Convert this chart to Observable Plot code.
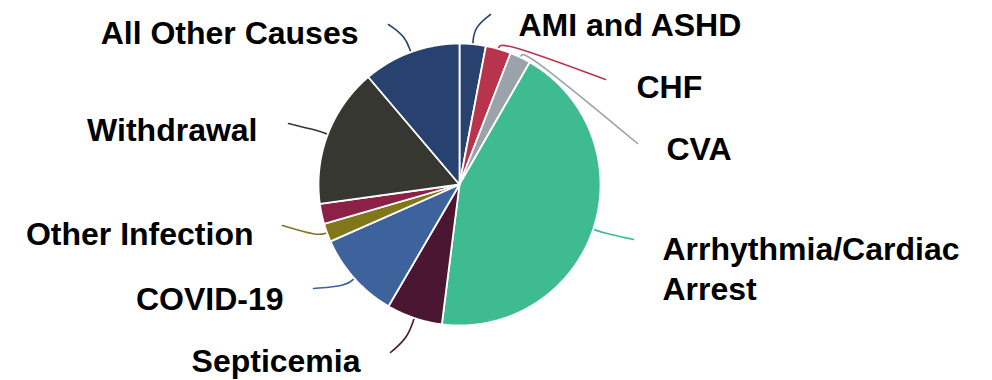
<!DOCTYPE html>
<html>
<head>
<meta charset="utf-8">
<script src="https://cdn.jsdelivr.net/npm/d3@7"></script>
<script src="https://cdn.jsdelivr.net/npm/@observablehq/plot@0.6"></script>
<style>
  html, body { margin: 0; padding: 0; background: #fff; }
  #chart svg { display: block; }
</style>
</head>
<body>
<div id="chart"></div>
<script>
// ---- data ----
const categories = ["AMI and ASHD", "CHF", "CVA", "Arrhythmia/Cardiac Arrest", "Septicemia",
                    "COVID-19", "Other Infection", "Unlabeled", "Withdrawal", "All Other Causes"];
const labels = ["AMI and ASHD", "CHF", "CVA", "Arrhythmia/Cardiac\nArrest", "Septicemia",
                "COVID-19", "Other Infection", "", "Withdrawal", "All Other Causes"];
const shares = [3.0, 2.9, 2.4, 43.7, 6.4, 10.0, 2.1, 2.3, 16.0, 11.2];

// ---- styles ----
const sliceColors = ["#27426f", "#b8334c", "#9aa2aa", "#3fbb92", "#4b1631",
                     "#3e629c", "#81771a", "#8b2147", "#373732", "#27426f"];
const FONT = 32, LINE_H = 1.25;

// ---- layout (pixels) ----
const W = 992, H = 380, CX = 459, CY = 184, R = 141;
// label: anchor side, text x, cap-top y ; leader end point
const layout = {
  "AMI and ASHD":              {side: "start", tx: 518, ty: 13,  ex: 490, ey: 14,  er: 1.12},
  "CHF":                       {side: "start", tx: 636, ty: 75,  ex: 605, ey: 79,  er: 1.06},
  "CVA":                       {side: "start", tx: 666, ty: 137, ex: 637, ey: 143, er: 1.06},
  "Arrhythmia/Cardiac Arrest": {side: "start", tx: 662, ty: 237, ex: 633, ey: 239, er: 1.08},
  "Septicemia":                {side: "end",   tx: 360, ty: 349, ex: 390, ey: 352, er: 1.15},
  "COVID-19":                  {side: "end",   tx: 283, ty: 287, ex: 313, ey: 288, er: 1.08},
  "Other Infection":           {side: "end",   tx: 253, ty: 222, ex: 282, ey: 225, er: 1.07},
  "Withdrawal":                {side: "end",   tx: 257, ty: 118, ex: 288, ey: 123, er: 1.07},
  "All Other Causes":          {side: "end",   tx: 358, ty: 21,  ex: 388, ey: 24,  er: 1.12}
};
const ux = px => (px - CX) / R;
const uy = py => (py - CY) / R;
// Plot's top line anchor offsets the first baseline by 0.71em * lineHeight
const topShift = 0.71 * (LINE_H - 1) * FONT;

// ---- geometry from data ----
const arcs = d3.pie().sort(null).value(d => d)(shares);
const slicePts = [];
const leaderPts = [];
const labelRows = [];
arcs.forEach((a, i) => {
  const cat = categories[i];
  slicePts.push({cat, x: 0, y: 0});
  const n = Math.max(2, Math.ceil((a.endAngle - a.startAngle) / 0.01));
  for (let k = 0; k <= n; k++) {
    const t = a.startAngle + (a.endAngle - a.startAngle) * k / n;
    slicePts.push({cat, x: Math.sin(t), y: -Math.cos(t)});
  }
  slicePts.push({cat, x: 0, y: 0});
  const L = layout[cat];
  if (L && labels[i]) {
    const mid = (a.startAngle + a.endAngle) / 2;
    leaderPts.push({cat, x: 1.005 * Math.sin(mid), y: -1.005 * Math.cos(mid)});
    leaderPts.push({cat, x: L.er * Math.sin(mid), y: -L.er * Math.cos(mid)});
    leaderPts.push({cat, x: ux(L.ex), y: uy(L.ey)});
    labelRows.push({cat, text: labels[i], side: L.side, x: ux(L.tx), y: uy(L.ty - topShift)});
  }
});

const textStyle = {
  text: "text", fontSize: FONT, fontWeight: "bold",
  fontFamily: "'Liberation Sans', Arial, Helvetica, sans-serif",
  fill: "#000", lineAnchor: "top", lineHeight: LINE_H
};

const chart = Plot.plot({
  width: W, height: H,
  margin: 0,
  x: {domain: [ux(0), ux(W)], range: [0, W], axis: null},
  y: {domain: [uy(0), uy(H)], range: [0, H], axis: null},
  color: {domain: categories, range: sliceColors},
  marks: [
    Plot.line(leaderPts, {x: "x", y: "y", z: "cat", stroke: "cat", strokeWidth: 1.6, curve: "basis"}),
    Plot.line(slicePts, {x: "x", y: "y", z: "cat", fill: "cat", stroke: "white", strokeWidth: 1.8,
                         strokeLinejoin: "round", curve: "linear-closed"}),
    Plot.text(labelRows.filter(d => d.side === "start"), {x: "x", y: "y", textAnchor: "start", ...textStyle}),
    Plot.text(labelRows.filter(d => d.side === "end"), {x: "x", y: "y", textAnchor: "end", ...textStyle})
  ]
});
document.getElementById("chart").appendChild(chart);
</script>
</body>
</html>
